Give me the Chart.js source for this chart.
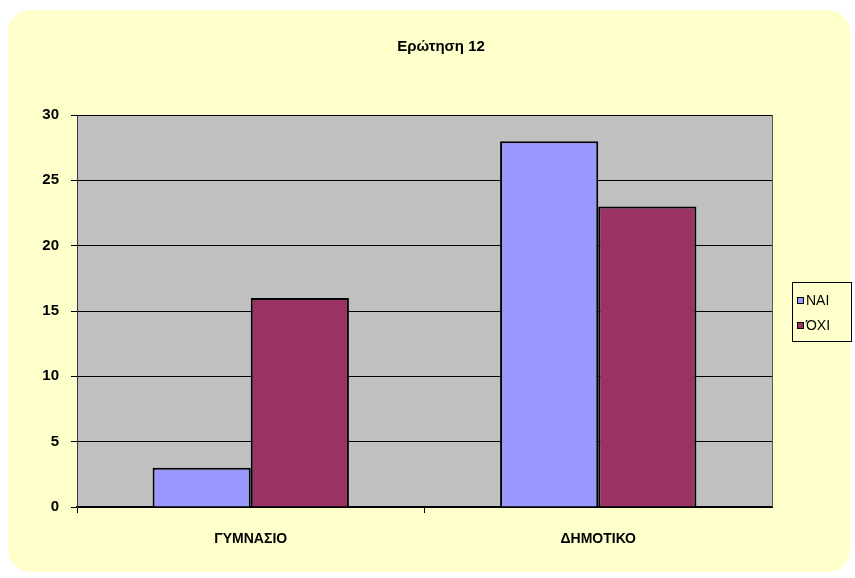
<!DOCTYPE html>
<html>
<head>
<meta charset="utf-8">
<script src="https://cdn.jsdelivr.net/npm/chart.js@4"></script>
<style>
  html, body { margin: 0; padding: 0; background: #ffffff; }
  #wrap { width: 855px; height: 578px; position: relative; }
</style>
</head>
<body>
<div id="wrap"><canvas id="chart"></canvas></div>
<script>
const categories = ["ΓΥΜΝΑΣΙΟ", "ΔΗΜΟΤΙΚΟ"];
const naiValues = [3, 28];
const oxiValues = [16, 23];
const seriesNames = ["ΝΑΙ", "ΌΧΙ"];
const yTicks = [0, 5, 10, 15, 20, 25, 30];
const chartTitle = "Ερώτηση 12";

const FONT = "'Liberation Sans', Arial, sans-serif";

// yellow rounded panel + grey plot area, title and boxed legend
const panelPlugin = {
    id: "panel",
    beforeDraw(chart) {
        const ctx = chart.ctx;
        const a = chart.chartArea;
        ctx.save();
        ctx.fillStyle = "#ffffcc";
        ctx.beginPath();
        ctx.roundRect(8, 10, 842, 562, 22);
        ctx.fill();
        ctx.fillStyle = "#c0c0c0";
        ctx.fillRect(a.left, a.top, a.right - a.left, a.bottom - a.top);
        ctx.restore();
    },
    afterDraw(chart) {
        const ctx = chart.ctx;
        const a = chart.chartArea;
        ctx.save();
        // right edge of plot
        ctx.strokeStyle = "#555";
        ctx.lineWidth = 1;
        ctx.beginPath();
        ctx.moveTo(a.right + 0.5, a.top);
        ctx.lineTo(a.right + 0.5, a.bottom);
        ctx.stroke();

        // title
        ctx.fillStyle = "#000";
        ctx.font = "bold 15px " + FONT;
        ctx.textAlign = "center";
        ctx.textBaseline = "middle";
        ctx.fillText(chartTitle, 441, 47);

        // legend box
        ctx.strokeStyle = "#000";
        ctx.strokeRect(792.5, 282.5, 59, 59);
        ctx.font = "14px " + FONT;
        ctx.textAlign = "left";
        chart.data.datasets.forEach((ds, i) => {
            const y = 300 + i * 25;
            ctx.fillStyle = ds.backgroundColor;
            ctx.fillRect(797, y - 3, 7, 7);
            ctx.strokeStyle = "#000";
            ctx.strokeRect(797.5, y - 2.5, 6, 6);
            ctx.fillStyle = "#000";
            ctx.fillText(ds.label, 806, y + 1);
        });
        ctx.restore();
    }
};

new Chart(document.getElementById("chart"), {
    type: "bar",
    data: {
        labels: categories,
        datasets: [
            { label: seriesNames[0], data: naiValues, backgroundColor: "#9999ff", borderColor: "#000", borderWidth: 2 },
            { label: seriesNames[1], data: oxiValues, backgroundColor: "#993366", borderColor: "#000", borderWidth: 2 }
        ]
    },
    options: {
        responsive: true,
        maintainAspectRatio: false,
        animation: false,
        categoryPercentage: 0.565,
        barPercentage: 1,
        layout: { padding: { top: 115, left: 0, right: 83, bottom: 0 } },
        plugins: {
            legend: { display: false },
            title: { display: false },
            tooltip: { enabled: false }
        },
        scales: {
            x: {
                afterFit(scale) { scale.height = 71; },
                grid: {
                    drawOnChartArea: false,
                    tickLength: 6,
                    offset: true,
                    // no tick mark at the far right end
                    color: c => (c.type === "tick" ? "#000" : "rgba(0,0,0,0)")
                },
                border: { color: "#000", width: 2 },
                ticks: { color: "#000", font: { family: FONT, size: 14, weight: "bold" }, padding: 18 }
            },
            y: {
                min: 0,
                max: 30,
                afterFit(scale) { scale.width = 77; },
                afterBuildTicks(scale) { scale.ticks = yTicks.map(v => ({ value: v })); },
                grid: { color: "#000", lineWidth: 1, tickLength: 6 },
                border: { color: "#333", width: 1 },
                ticks: { color: "#000", font: { family: FONT, size: 15, weight: "bold" }, padding: 12 }
            }
        }
    },
    plugins: [panelPlugin]
});
</script>
</body>
</html>
